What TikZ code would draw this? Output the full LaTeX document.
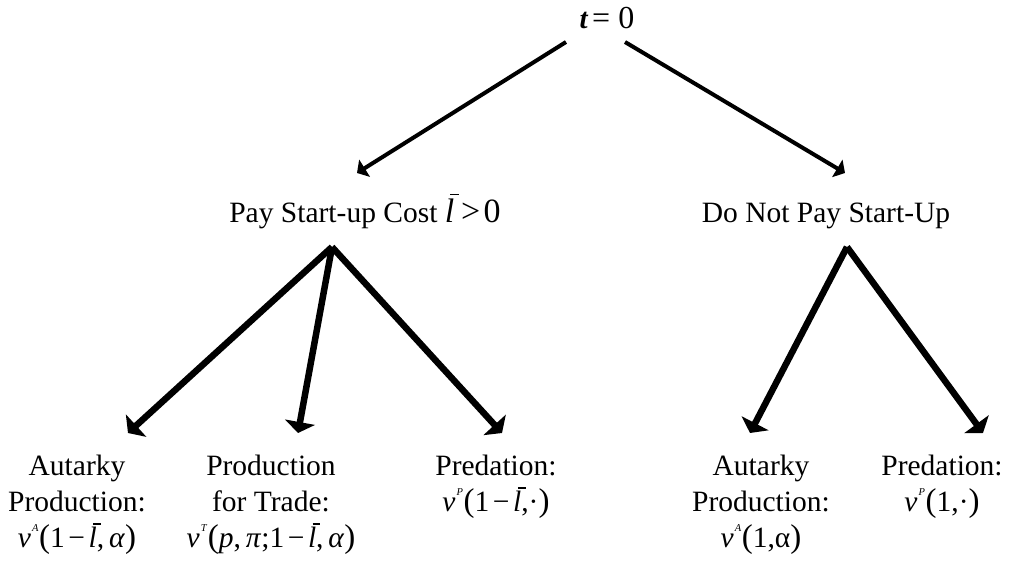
\documentclass[tikz,border=0pt]{standalone}
\usepackage{fontspec}
\setmainfont{Liberation Serif}
\usetikzlibrary{arrows.meta}
\newcommand\lbarr{\leavevmode\rlap{\kern0.16em\rule[0.78em]{0.26em}{0.045em}}\textit{l}}
\newcommand\vsup[1]{\textit{v}\kern0.04em\raisebox{0.55em}{\fontsize{10.5}{10.5}\selectfont\textit{#1}}\kern0.02em}
\newcommand\lpar{{\fontsize{33}{33}\selectfont(}}
\newcommand\rpar{{\fontsize{33}{33}\selectfont)}}
\newcommand\mminus{\kern0.12em−\kern0.12em}
\begin{document}
\begin{tikzpicture}[x=1pt,y=-1pt,
  lbl/.style={font=\fontsize{29.5}{36}\selectfont, align=center, inner sep=0pt, anchor=north},
  thinarrow/.style={line width=4pt, -{Triangle[width=20pt,length=9pt]}},
  thickarrow/.style={line width=6.5pt, -{Triangle[width=30pt,length=11pt]}}]
\useasboundingbox (0,0) rectangle (1010,568);
% top
\node[lbl, anchor=base] (t0) at (607,28) {{\fontsize{29}{29}\selectfont\bfseries\itshape t}\kern0.15em{\fontsize{32}{32}\selectfont = 0}};
\coordinate (tl) at (566,42);
\coordinate (tr) at (625,42);
\coordinate (pe) at (357,173);
\coordinate (de) at (845,173);
\draw[thinarrow] (tl) -- (pe);
\draw[thinarrow] (tr) -- (de);
% middle
\node[lbl, anchor=base] (pay) at (365,222) {Pay Start-up Cost {\fontsize{34}{34}\selectfont\lbarr\kern0.2em>\kern0.1em0}};
\node[lbl, anchor=base] (dnp) at (826,222) {Do Not Pay Start-Up};
\coordinate (pa) at (332,247);
\coordinate (da) at (847,247);
\coordinate (e1) at (128,433);
\coordinate (e2) at (298,433);
\coordinate (e3) at (502,433);
\coordinate (e4) at (750,433);
\coordinate (e5) at (983,433);
\draw[thickarrow] (pa) -- (e1);
\draw[thickarrow] (pa) -- (e2);
\draw[thickarrow] (pa) -- (e3);
\draw[thickarrow] (da) -- (e4);
\draw[thickarrow] (da) -- (e5);
% bottom
\node[lbl] (b1) at (77,455) {Autarky\\Production:\\\vsup{A}\lpar1\mminus\lbarr,\,\textit{α}\rpar};
\node[lbl] (b2) at (271,455) {Production\\for Trade:\\\vsup{T}\lpar\textit{p},\,\textit{π};1\mminus\lbarr,\,\textit{α}\rpar};
\node[lbl] (b3) at (496,455) {Predation:\\\vsup{P}\lpar1\mminus\lbarr,·\rpar};
\node[lbl] (b4) at (761,455) {Autarky\\Production:\\\vsup{A}\lpar1,α\rpar};
\node[lbl] (b5) at (942,455) {Predation:\\\vsup{P}\lpar1,·\rpar};
\end{tikzpicture}
\end{document}
